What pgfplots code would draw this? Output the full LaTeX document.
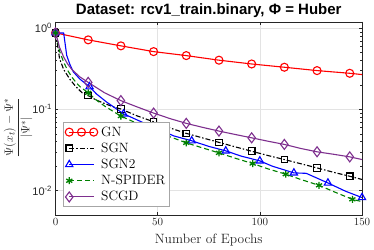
\documentclass[border=0pt]{standalone}
\usepackage{fontspec}
\usepackage{pgfplots}
\pgfplotsset{compat=1.18}
\newfontfamily\arialfont{Liberation Sans}
\definecolor{mgreen}{rgb}{0,0.5,0}
\definecolor{mpurple}{rgb}{0.494,0.184,0.556}
\definecolor{axgray}{rgb}{0.15,0.15,0.15}
\begin{document}
\begin{tikzpicture}
\path[use as bounding box] (-55.5pt,-34pt) rectangle (318.5pt,215pt);
\begin{semilogyaxis}[
  at={(0,0)}, anchor=south west,
  scale only axis, width=306.5pt, height=193.3pt,
  xmin=0, xmax=150, ymin=0.005, ymax=1.2,
  xtick={0,50,100,150},
  ytick={0.01,0.1,1},
  yticklabels={10\textsuperscript{-2},10\textsuperscript{-1},10\textsuperscript{0}},
  tick label style={font=\arialfont\fontsize{11}{12}\selectfont, text=axgray},
  tick align=inside,
  major tick length=3pt, minor tick length=1.8pt,
  axis line style={axgray},
  every tick/.style={axgray},
  grid=major,
  major grid style={gray!22, line width=0.4pt},
  clip=false,
  title={Dataset: rcv1\_train.binary, Φ = Huber},
  title style={font=\arialfont\bfseries\fontsize{15}{17}\selectfont, text=black},
  every axis title shift=1pt,
  xlabel={Number of Epochs},
  xlabel style={font=\fontsize{13.5}{15}\selectfont, text=axgray, at={(axis description cs:0.5,0)}, anchor=base, yshift=-28.5pt},
  ylabel={$\displaystyle\frac{\Psi(x_t)-\Psi^*}{|\Psi^*|}$},
  ylabel style={font=\fontsize{12.5}{14}\selectfont, text=axgray, at={(axis description cs:-0.122,0.453)}, anchor=center},
  legend style={at={(axis description cs:0.0245,0.043)}, anchor=south west, font=\fontsize{13.5}{15}\selectfont, draw=gray!70, line width=0.5pt, row sep=1.2pt, column sep=1.5pt, inner sep=2pt},
  legend cell align=left,
  legend image code/.code={\draw[mark repeat=2,mark phase=2,#1] plot coordinates {(0cm,0cm) (0.43cm,0cm) (0.86cm,0cm)};},
]
% GN
\addplot[red, line width=1.1pt, mark=o, mark size=4pt, mark options={solid, fill=white, line width=1.1pt},
  mark indices={1,2,3,4,5,6,7,8,9,10}] coordinates {
(0,0.875) (16,0.717) (32,0.605) (48,0.514) (64,0.459) (80,0.403) (96,0.362) (112,0.330) (128,0.300) (144,0.278) (150,0.268)
};
\addlegendentry{GN}
% SGN
\addplot[black, line width=1.1pt, dash pattern=on 5pt off 2pt on 1.5pt off 2pt, mark=square, mark size=3.3pt, mark options={solid, fill=white, line width=1.1pt},
  mark indices={1,8,12,14,16,18,20,22,24,26}] coordinates {
(0,0.875) (1,0.62) (2,0.42) (4,0.31) (7,0.235) (10,0.19) (13,0.16) (16,0.148) (20,0.13) (24,0.118) (28,0.108) (32,0.101)
(40,0.083) (48,0.0703) (56,0.059) (64,0.0506) (72,0.0445) (80,0.0392) (88,0.0345) (96,0.0305) (104,0.027) (112,0.0241)
(120,0.0214) (128,0.0190) (136,0.0168) (144,0.0150) (150,0.0137)
};
\addlegendentry{SGN}
% SGN2
\addplot[blue, line width=1.1pt, mark=triangle, mark size=4.2pt, mark options={solid, fill=white, line width=1.1pt},
  mark indices={1,7,10,12,14,16,18,20,22,24}] coordinates {
(0,0.875) (4,0.87) (5.5,0.46) (7,0.36) (8.7,0.29) (12,0.235) (16.67,0.19) (20,0.155) (25,0.123) (33.33,0.088)
(40,0.074) (50,0.057) (58,0.047) (66.67,0.041) (75,0.035) (83.33,0.0308) (91,0.0265) (100,0.0232) (106,0.020)
(116.67,0.0165) (122.7,0.0163) (133.33,0.0124) (142,0.0098) (150,0.0082)
};
\addlegendentry{SGN2}
% N-SPIDER
\addplot[mgreen, line width=1.1pt, dash pattern=on 5pt off 3pt, mark=asterisk, mark size=3.5pt, mark options={solid, line width=1.3pt},
  mark indices={1,9,13,15,17,19,21,23,25,27}] coordinates {
(0,0.875) (1,0.7) (2,0.52) (4,0.38) (6,0.30) (8,0.25) (10,0.215) (12,0.19) (16,0.160) (20,0.130) (24,0.110) (28,0.095)
(32,0.0826) (40,0.067) (48,0.056) (56,0.046) (64,0.0387) (72,0.0335) (80,0.0291) (88,0.025) (96.5,0.0215) (104,0.0185)
(112.7,0.0159) (120,0.0137) (129,0.0116) (137,0.0095) (145.3,0.0078) (150,0.0073)
};
\addlegendentry{N-SPIDER}
% SCGD
\addplot[mpurple, line width=1.1pt, mark=diamond, mark size=5pt, mark options={solid, fill=white, line width=1.1pt},
  mark indices={1,8,10,12,14,16,18,20,22,24}] coordinates {
(0,0.875) (1,0.72) (2,0.58) (4,0.44) (6,0.36) (8,0.31) (12,0.25) (16,0.215) (24,0.16) (32,0.128) (40,0.107) (48,0.090)
(56,0.077) (64,0.0672) (72,0.060) (80,0.054) (88,0.049) (96,0.0446) (104,0.0405) (112,0.037) (120,0.033) (128,0.030)
(136,0.028) (144,0.026) (150,0.0241)
};
\addlegendentry{SCGD}
\end{semilogyaxis}
\end{tikzpicture}
\end{document}
